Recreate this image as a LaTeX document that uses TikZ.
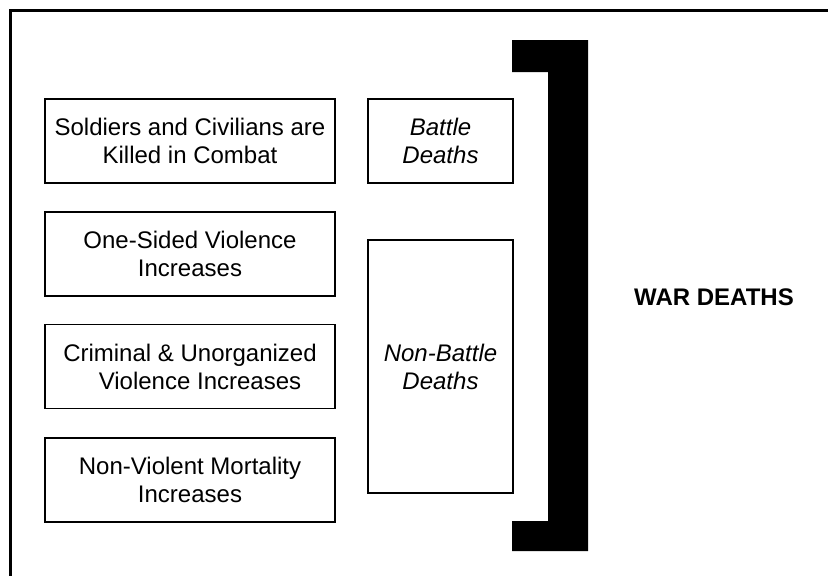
\documentclass[tikz,border=0pt]{standalone}
\usepackage{fontspec}
\setmainfont{Liberation Sans}

\begin{document}
\begin{tikzpicture}[x=1pt, y=-1pt,
	cause node/.style={draw, line width=1.6pt, minimum width=290pt, minimum height=84pt, inner sep=0pt, align=center, font=\fontsize{24}{28}\selectfont},
	death node/.style={draw, line width=1.3pt, minimum width=145pt, inner sep=0pt, align=center, font=\fontsize{24}{28}\selectfont\itshape}]
	
	\useasboundingbox (0,0) rectangle (828,576);
	\clip (0,0) rectangle (828,576);
	
	% Outer frame, runs off the page at right and bottom
	\draw[line width=3pt] (10,10) rectangle (900,650);
	
	% Causes on the left
	\node[cause node] (combat) at (190,141) {Soldiers and Civilians are\\Killed in Combat};
	\node[cause node] (onesided) at (190,254) {One-Sided Violence\\Increases};
	\node[cause node] (criminal) at (190,366.5) {Criminal \& Unorganized\\\hspace*{20pt}Violence Increases};
	\node[cause node] (nonviolent) at (190,480) {Non-Violent Mortality\\Increases};
	
	% Kinds of death
	\node[death node, minimum height=84pt] (battle) at (440.5,141) {Battle\\Deaths};
	\node[death node, minimum height=253pt] (nonbattle) at (440.5,366.5) {Non-Battle\\Deaths};
	
	% Big bracket
	\fill (512,40) -- (588,40) -- (588,551) -- (512,551) -- (512,521) -- (548,521) -- (548,72) -- (512,72) -- cycle;
	
	\node[font=\fontsize{24}{28}\selectfont\bfseries] (war) at (714,297) {WAR DEATHS};
\end{tikzpicture}
\end{document}
